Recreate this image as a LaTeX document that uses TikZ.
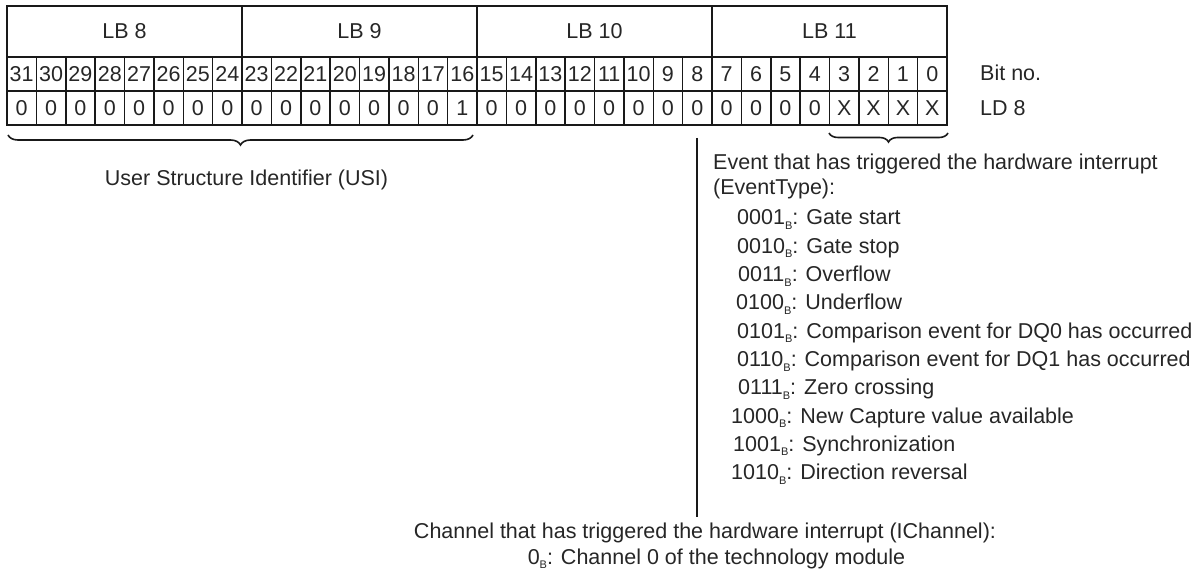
\documentclass[tikz,border=0pt]{standalone}
\usepackage{fontspec}
\setmainfont{Liberation Sans}
\usetikzlibrary{decorations.pathreplacing}
\newcommand\subB{\raisebox{-4.5pt}{\fontsize{11}{11}\selectfont B}}
\begin{document}
\begin{tikzpicture}[x=1pt,y=-1pt,
  txt/.style={font=\fontsize{21.5}{28}\selectfont, inner sep=0pt, text=black!85},
  cell/.style={txt, draw=black!90, line width=1.5pt, minimum width=29.375pt, minimum height=34pt},
  lbcell/.style={txt, draw=black!90, line width=1.5pt, minimum width=235pt, minimum height=51pt},
  bracestyle/.style={decorate, decoration={brace, amplitude=#1}, line width=1.6pt, draw=black!90},
  vline/.style={line width=1.8pt, draw=black!90}]
\useasboundingbox (0,0) rectangle (1197,572);
% byte headers
\foreach \j/\n in {0/8,1/9,2/10,3/11}{
  \node[lbcell] (lb\n) at ({7+235*(\j+0.5)},31.5) {LB \n};
}
% bit numbers and values
\foreach \i in {0,...,31}{
  \pgfmathsetmacro\cx{7+29.375*(31-\i+0.5)}
  \node[cell] (bit\i) at (\cx,74) {\i};
  \node[cell] (val\i) at (\cx,108) {\ifnum\i=16 1\else\ifnum\i<4 X\else 0\fi\fi};
}
\node[txt, anchor=base west] (bitno) at (980,81) {Bit no.};
\node[txt, anchor=base west] (ld8) at (980,116) {LD 8};
% braces
\coordinate (usiR) at (473,135);
\coordinate (usiL) at (8,135);
\draw[bracestyle=10pt] (usiR) -- (usiL);
\coordinate (evR) at (948,133);
\coordinate (evL) at (829,133);
\draw[bracestyle=9pt] (evR) -- (evL);
\node[txt, anchor=center] (usi) at (246.5,180) {User Structure Identifier (USI)};
% vertical line
\coordinate (vtop) at (697,138);
\coordinate (vbot) at (697,517);
\draw[vline] (vtop) -- (vbot);
% event description
\node[txt, anchor=base west] (ev1) at (713,170) {Event that has triggered the hardware interrupt};
\node[txt, anchor=base west] (ev2) at (713,195) {(EventType):};
\node[txt, anchor=base west] (e1) at (737,225) {0001\subB: Gate start};
\node[txt, anchor=base west] (e2) at (737,253.3) {0010\subB: Gate stop};
\node[txt, anchor=base west] (e3) at (738,281.6) {0011\subB: Overflow};
\node[txt, anchor=base west] (e4) at (736,309.9) {0100\subB: Underflow};
\node[txt, anchor=base west] (e5) at (737,338.2) {0101\subB: Comparison event for DQ0 has occurred};
\node[txt, anchor=base west] (e6) at (737,366.5) {0110\subB: Comparison event for DQ1 has occurred};
\node[txt, anchor=base west] (e7) at (738,394.8) {0111\subB: Zero crossing};
\node[txt, anchor=base west] (e8) at (731,423.1) {1000\subB: New Capture value available};
\node[txt, anchor=base west] (e9) at (733,451.4) {1001\subB: Synchronization};
\node[txt, anchor=base west] (e10) at (731,479.7) {1010\subB: Direction reversal};
% channel description
\node[txt, anchor=base] (ch1) at (705,538) {Channel that has triggered the hardware interrupt (IChannel):};
\node[txt, anchor=base] (ch2) at (716.5,564) {0\subB: Channel 0 of the technology module};
\end{tikzpicture}
\end{document}
